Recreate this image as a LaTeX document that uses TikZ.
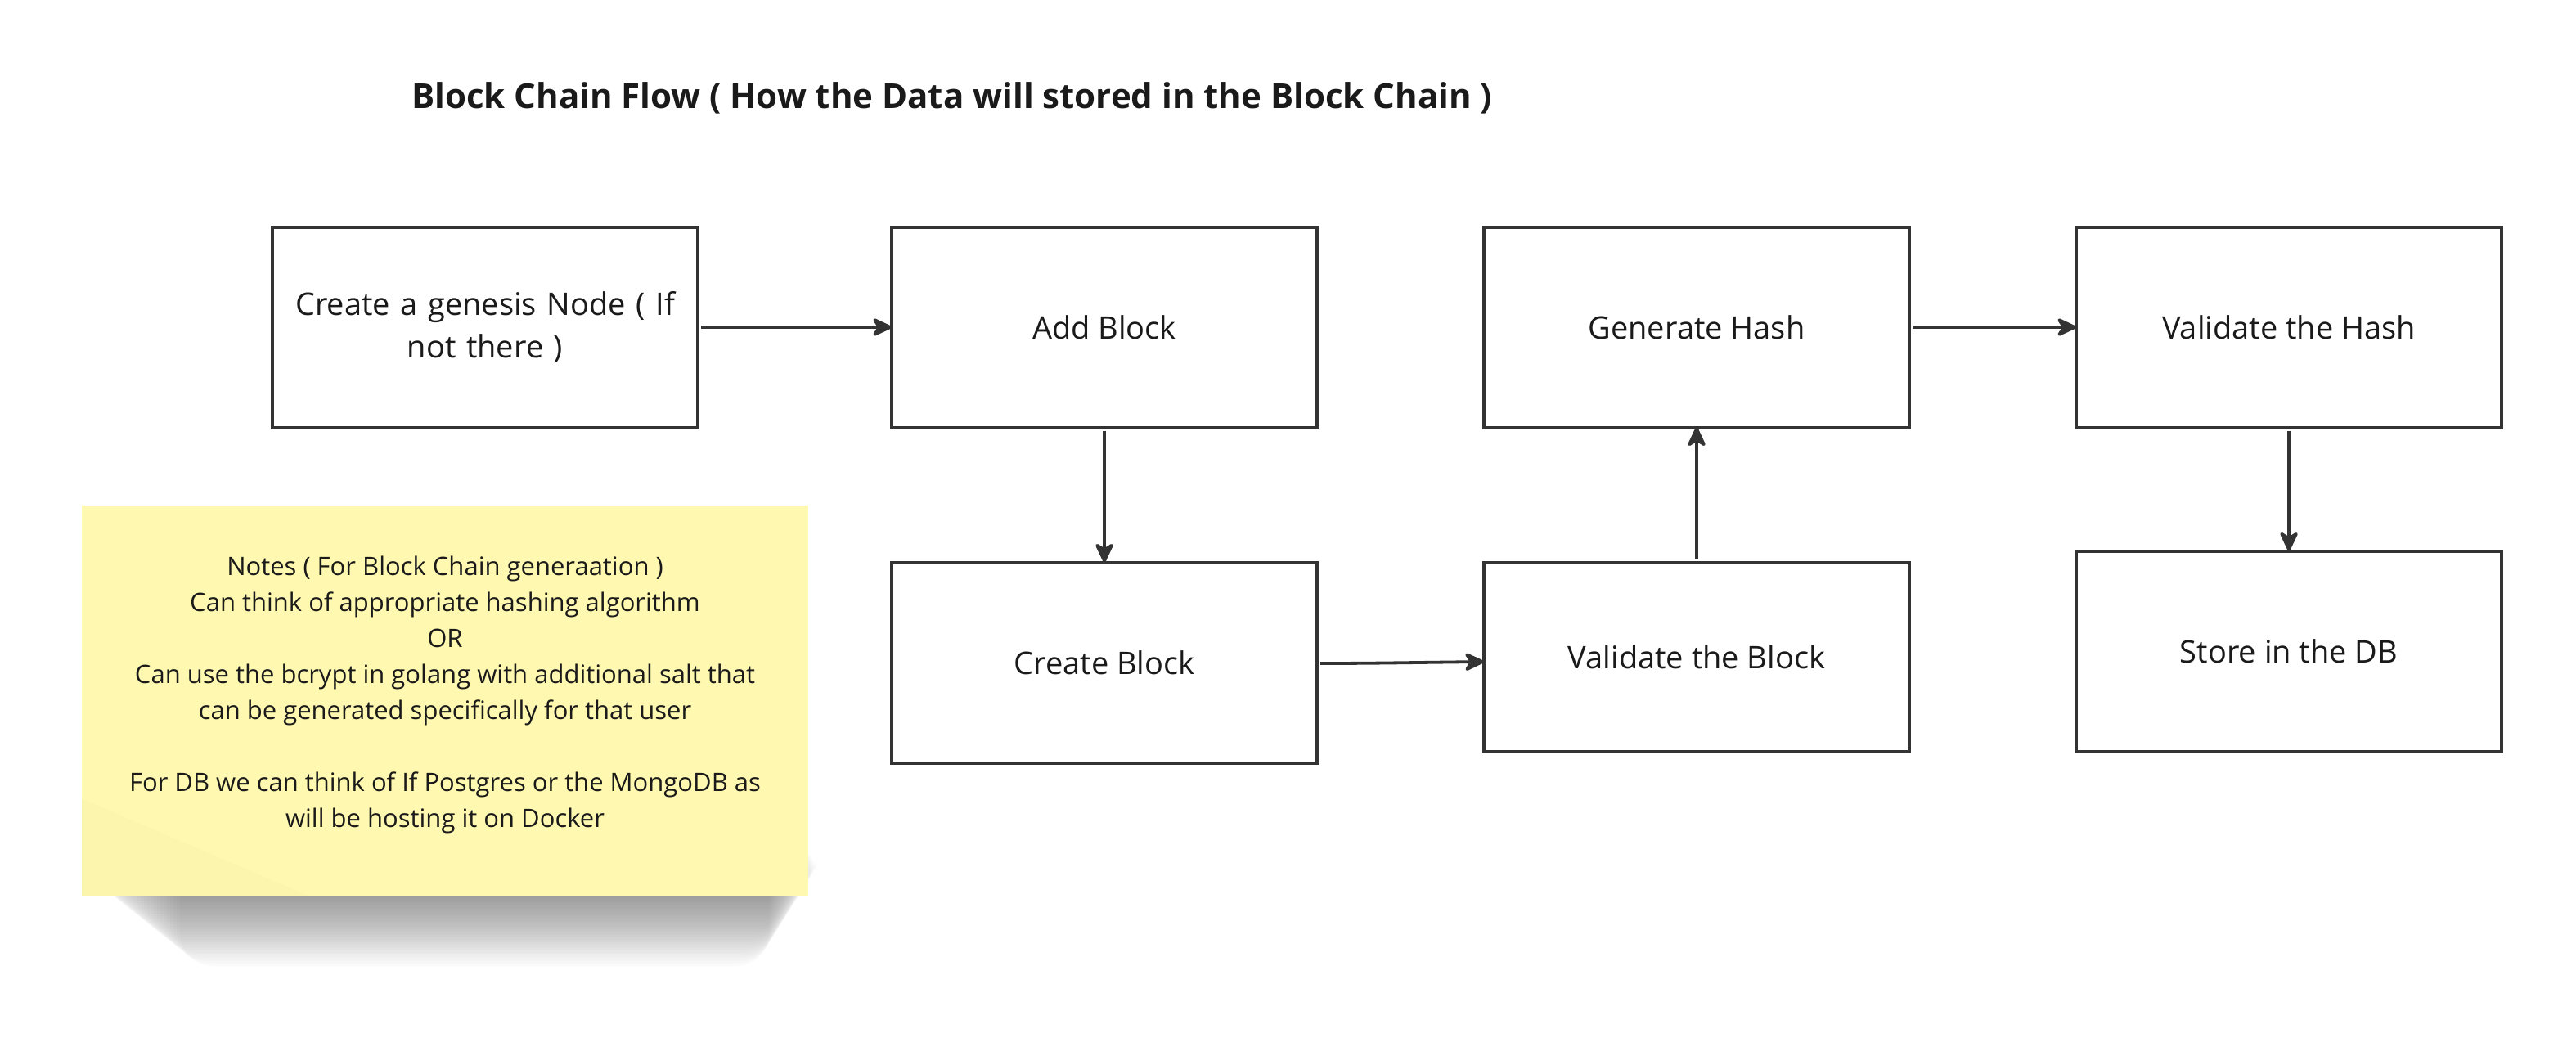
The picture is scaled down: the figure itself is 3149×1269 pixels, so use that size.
\documentclass[tikz,border=0pt]{standalone}
\usepackage{fontspec}
\setmainfont{Open Sans}
\usetikzlibrary{arrows.meta}
\definecolor{ln}{HTML}{333333}
\definecolor{txt}{HTML}{1A1A1A}
\definecolor{sticky}{HTML}{FFF8B0}
\begin{document}
\begin{tikzpicture}[x=1pt,y=-1pt,
  box/.style={draw=ln,line width=4pt,fill=white,minimum width=520pt,minimum height=245pt,
    inner sep=0pt,outer sep=0pt,align=center,text=txt,font=\fontsize{38}{52}\selectfont},
  conn/.style={draw=ln,line width=3.8pt,-{Stealth[length=28pt,width=26pt,inset=8pt,round]}},
  gap/.style={shorten <=4pt}]
\useasboundingbox (0,0) rectangle (3149,1269);
\fill[white] (0,0) rectangle (3149,1269);
% title
\node[anchor=west,text=txt,font=\fontsize{42}{50}\selectfont\bfseries,inner sep=0pt] (title) at (503,120)
  {Block Chain Flow ( How the Data will stored in the Block Chain )};
% boxes
\node[box,text width=470pt] (gen) at (593,400) {Create a genesis Node ( If\\not there )};
\node[box] (add) at (1350,400) {Add Block};
\node[box] (gh) at (2074,400) {Generate Hash};
\node[box] (vh) at (2798,400) {Validate the Hash};
\node[box] (cb) at (1350,810) {Create Block};
\node[box,minimum height=231pt] (vb) at (2074,803) {Validate the Block};
\node[box] (db) at (2798,796) {Store in the DB};
% note shadow (soft, layered)
\foreach \k in {1,...,30}{
  \fill[black,opacity=0.014,rounded corners=40pt]
    ({100+\k*4},1030) rectangle ({1000-\k*2},{1085+\k*3.2});
}
% note
\node[fill=sticky,minimum width=888pt,minimum height=478pt,inner sep=0pt] (note) at (544,857) {};
\fill[black,opacity=0.012] (note.south west) -- ([yshift=120pt]note.south west) -- ([xshift=280pt]note.south west) -- cycle;
\node[align=center,text=txt,font=\fontsize{31}{44}\selectfont] (notetext) at (544,849)
  {Notes ( For Block Chain generaation )\\
   Can think of appropriate hashing algorithm\\
   OR\\
   Can use the bcrypt in golang with additional salt that\\
   can be generated specifically for that user\\[44pt]
   For DB we can think of If Postgres or the MongoDB as\\
   will be hosting it on Docker};
% connectors
\draw[conn,gap] (gen.east) -- (add.west);
\draw[conn,gap] (add.south) -- (cb.north);
\draw[conn,gap] ([yshift=-1pt]cb.east) .. controls +(70,0) and +(-90,1) .. ([yshift=-6pt]vb.west);
\draw[conn,gap] (vb.north) -- (gh.south);
\draw[conn,gap] (gh.east) -- (vh.west);
\draw[conn,gap] (vh.south) -- (db.north);
\end{tikzpicture}
\end{document}
